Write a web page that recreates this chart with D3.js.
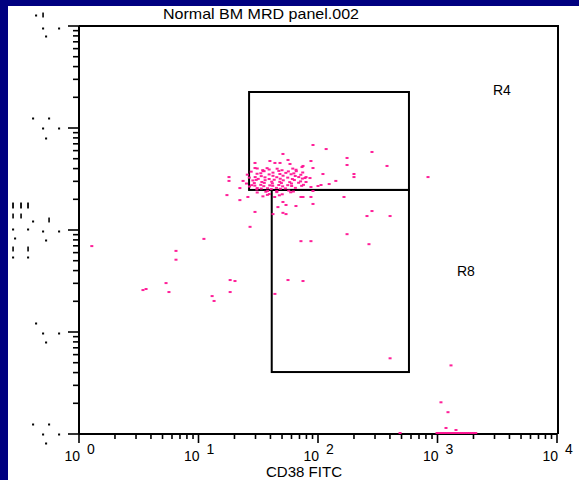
<!DOCTYPE html>
<html>
<head>
<meta charset="utf-8">
<script src="https://cdn.jsdelivr.net/npm/d3@7"></script>
<style>
  html, body { margin: 0; padding: 0; background: #000080; }
  svg { display: block; }
</style>
</head>
<body>
<svg id="chart"></svg>
<script>
// ---- data ----
const title = "Normal BM MRD panel.002";
const xLabel = "CD38 FITC";
const decades = [0, 1, 2, 3, 4];

// sparse events [CD38, y-parameter]
const scatterEvents = [
  [1.28, 68], [6.48, 61], [6.48, 50], [11.1, 80], [27.0, 105], [5.35, 29.5],
  [3.43, 25.2], [3.64, 25.8], [5.66, 24.1], [18.4, 31.6], [20.2, 30.9], [18.4, 24.1],
  [13.0, 22.0], [13.5, 19.7], [43.6, 23.1], [56.1, 31.6], [72.0, 76], [87.3, 76],
  [74.9, 30.9], [90.8, 666], [117, 608], [283, 569], [50.9, 544], [175, 497],
  [175, 424], [378, 415], [200, 346], [200, 323], [833, 323], [141, 296],
  [124, 276], [110, 346], [87.3, 464], [74.9, 415], [90.8, 396], [165, 206],
  [283, 150], [257, 134], [401, 134], [175, 89], [267, 71], [90.8, 176],
  [87.3, 206], [72.0, 206], [74.9, 206], [50.9, 184], [54.0, 172], [65.4, 168],
  [50.9, 144], [54.0, 140], [46.2, 164], [42.0, 140], [29.7, 147], [17.3, 215],
  [22.2, 192], [25.9, 206], [18.0, 323], [18.0, 296], [23.6, 296], [22.2, 252],
  [29.7, 444], [39.6, 464], [43.6, 444], [48.1, 444], [56.1, 475], [58.3, 434],
  [29.7, 396], [73.5, 405], [77.8, 316], [85.7, 316], [79.4, 289], [87.3, 258],
  [90.8, 236], [100, 264], [106, 270], [79.4, 323], [34.7, 370],
  [401, 5.4], [1297, 4.6], [1069, 2.0], [1224, 1.6], [1178, 1.12], [1428, 1.07]
];

// dense population just around the R4 / R8 border
const clusterEvents = [
  [31.0, 392], [34.5, 378], [37.5, 395], [39.0, 383], [45.5, 390], [50.0, 377], [61.5, 391], [65.5, 381],
  [27.6, 365], [33.2, 352], [35.4, 369], [42.0, 357], [47.0, 371], [53.8, 355], [56.5, 367], [62.8, 351], [65.8, 369], [74.5, 358],
  [25.6, 341], [30.9, 348], [33.5, 330], [39.0, 343], [42.0, 332], [48.0, 346], [51.0, 333], [59.5, 344], [64.5, 331], [71.8, 340],
  [26.6, 319], [29.8, 323], [31.6, 310], [36.0, 321], [39.0, 309], [45.2, 322], [48.3, 311], [55.8, 319], [61.0, 309], [69.0, 323], [74.0, 312],
  [28.5, 299], [30.4, 303], [33.9, 289], [36.1, 301], [41.0, 291], [43.0, 304], [47.9, 290], [51.2, 300], [58.0, 288], [63.4, 302], [71.5, 293],
  [25.2, 279], [27.9, 269], [29.3, 282], [33.2, 271], [35.5, 283], [39.5, 268], [41.5, 280], [47.0, 270], [49.4, 282], [55.8, 269], [60.0, 279], [68.8, 284], [75.6, 271],
  [26.7, 261], [29.6, 266], [31.0, 252], [35.2, 263], [37.8, 251], [41.8, 265], [44.9, 253], [50.6, 262], [53.4, 250], [60.2, 264], [64.7, 253], [73.0, 265],
  [30.8, 244], [33.5, 249], [37.9, 236], [40.6, 246], [45.2, 235], [48.4, 248], [56.9, 238], [62.2, 233],
  [31.0, 228], [36.6, 232], [39.2, 220], [45.2, 230], [50.2, 219], [59.1, 229],
  [34.6, 209], [37.7, 216], [43.4, 206], [47.5, 214]
];

// events piled on the lower edge of the y scale
const axisEvents = [
  [486, 1], [991, 1], [1030, 1], [1070, 1], [1110, 1], [1150, 1], [1200, 1], [1250, 1],
  [1300, 1], [1350, 1], [1400, 1], [1460, 1], [1520, 1], [1580, 1], [1640, 1],
  [1710, 1], [1780, 1], [1850, 1], [1930, 1], [2010, 1], [2090, 1]
];

// gates: CD38 range, y range
const gateNames = ["R4", "R8"];
const gateX = [[26.5, 577], [41, 577]];
const gateY = [[247, 2254], [4.05, 247]];

// ---- layout ----
const W = 579, H = 480;
const plot = { left: 79, right: 557, top: 26, bottom: 434 };
const font = "'Liberation Sans', Arial, sans-serif";
const pink = "#ff1493";

const svg = d3.select("#chart").attr("width", W).attr("height", H);

// pass-through filter: glyphs get rasterised offscreen (grayscale AA)
svg.append("defs").append("filter")
  .attr("id", "flat")
  .append("feOffset").attr("dx", 0).attr("dy", 0);

svg.append("rect")
  .attr("x", 8).attr("y", 6)
  .attr("width", W - 8).attr("height", H - 6)
  .attr("fill", "#ffffff");

const x = d3.scaleLog().domain([1, 1e4]).range([plot.left, plot.right]);
const y = d3.scaleLog().domain([1, 1e4]).range([plot.bottom, plot.top]);

const isMajor = (d) => Math.abs(Math.log10(d) - Math.round(Math.log10(d))) < 1e-9;

// frame top + right
svg.append("path")
  .attr("d", `M${plot.left},${plot.top}H${plot.right + 1}V${plot.bottom}`)
  .attr("fill", "none")
  .attr("stroke", "#000")
  .attr("stroke-width", 2);

// gates
gateNames.forEach((name, i) => {
  svg.append("rect")
    .attr("class", "gate")
    .attr("x", x(gateX[i][0]))
    .attr("y", y(gateY[i][1]))
    .attr("width", x(gateX[i][1]) - x(gateX[i][0]))
    .attr("height", y(gateY[i][0]) - y(gateY[i][1]))
    .attr("fill", "none")
    .attr("stroke", "#000")
    .attr("stroke-width", 2);
});

// axes
const xAxis = svg.append("g")
  .attr("transform", `translate(0,${plot.bottom})`)
  .call(d3.axisBottom(x).tickValues(x.ticks()).tickFormat("").tickSizeOuter(0).offset(0));
xAxis.selectAll(".tick line")
  .attr("y2", (d) => (isMajor(d) ? 9 : 5))
  .attr("stroke-width", 1.6);
xAxis.select(".domain").attr("stroke-width", 2);

const yAxis = svg.append("g")
  .attr("transform", `translate(${plot.left},0)`)
  .call(d3.axisLeft(y).tickValues(y.ticks()).tickFormat("").tickSizeOuter(0).offset(0));
yAxis.selectAll(".tick line")
  .attr("x2", (d) => (isMajor(d) ? -11 : -6))
  .attr("stroke-width", 1.6);
yAxis.select(".domain").attr("stroke-width", 2);

// x tick labels: 10 with exponent
const xLabels = svg.append("g").attr("font-family", font).attr("font-size", 14).attr("fill", "#000");
decades.forEach((k) => {
  const tx = x(Math.pow(10, k));
  xLabels.append("text").attr("x", tx + 1).attr("y", 461).attr("text-anchor", "end").text("10");
  xLabels.append("text").attr("x", tx + 8).attr("y", 454).text(String(k));
});

// y tick labels come out as scattered dots in the original print
const yTickGlyphs = [
  [[".", 33, -10], [".", 49, -10], [".", 43, 0], [".", 59, 0], [".", 46, 9]],
  [[".", 36, -9], [".", 43, 1], [".", 59, 1], [".", 46, 10]],
  [[".", 33, -9], ["'", 49, -10], [".", 43, 1], [".", 59, 1], [".", 46, 10]],
  [[".", 33, -10], [".", 49, -10], [".", 43, 0], [".", 59, 0], [".", 46, 10]],
  [[".", 36, -11], ["'", 43, -11], [".", 43, 2], [".", 59, 2], [".", 46, 10]]
];
const yLabelGlyphs = [
  ["|", 13, 206], ["|", 21, 206], ["|", 28, 206],
  ["'", 13, 216], ["'", 21, 216],
  [".", 13, 229], [".", 28, 229], [".", 15, 238],
  ["'", 13, 249], ["'", 28, 249],
  [".", 13, 257], [".", 28, 257]
];

const glyphs = svg.append("g")
  .attr("filter", "url(#flat)")
  .attr("font-family", font)
  .attr("font-weight", "bold")
  .attr("text-anchor", "middle")
  .attr("fill", "#000")
  .attr("stroke", "#000");

function addGlyph(ch, gx, gy) {
  if (ch === ".") {
    glyphs.append("text").attr("x", gx).attr("y", gy + 0.6)
      .attr("font-size", 8).attr("stroke-width", 0.9).text(".");
  } else if (ch === "'") {
    glyphs.append("text").attr("x", gx).attr("y", gy + 1)
      .attr("font-size", 4).attr("stroke-width", 1).text("|");
  } else {
    glyphs.append("text").attr("x", gx).attr("y", gy + 1.4)
      .attr("font-size", 5.5).attr("stroke-width", 1).text("|");
  }
}
decades.forEach((k) => {
  const ty = y(Math.pow(10, k));
  yTickGlyphs[k].forEach(([ch, gx, dy]) => addGlyph(ch, gx, ty + dy));
});
yLabelGlyphs.forEach(([ch, gx, gy]) => addGlyph(ch, gx, gy));

// events
const events = scatterEvents.concat(clusterEvents, axisEvents);
svg.append("g")
  .selectAll("rect")
  .data(events)
  .join("rect")
  .attr("x", (d) => x(d[0]) - 1.5)
  .attr("y", (d) => y(d[1]) - 2)
  .attr("width", 3)
  .attr("height", 2)
  .attr("fill", pink)
  .attr("opacity", 0.95);

// texts
svg.append("text")
  .attr("x", 163).attr("y", 19)
  .attr("font-family", font).attr("font-size", 15)
  .attr("textLength", 196)
  .attr("lengthAdjust", "spacingAndGlyphs")
  .attr("fill", "#000")
  .text(title);

svg.append("text")
  .attr("x", 304).attr("y", 477)
  .attr("text-anchor", "middle")
  .attr("font-family", font).attr("font-size", 14)
  .attr("textLength", 76)
  .attr("lengthAdjust", "spacingAndGlyphs")
  .attr("fill", "#000")
  .text(xLabel);

const gateLabelPos = [[493, 95], [457, 276]];
gateNames.forEach((name, i) => {
  svg.append("text")
    .attr("x", gateLabelPos[i][0]).attr("y", gateLabelPos[i][1])
    .attr("font-family", font).attr("font-size", 14)
    .attr("fill", "#000")
    .text(name);
});
</script>
</body>
</html>
